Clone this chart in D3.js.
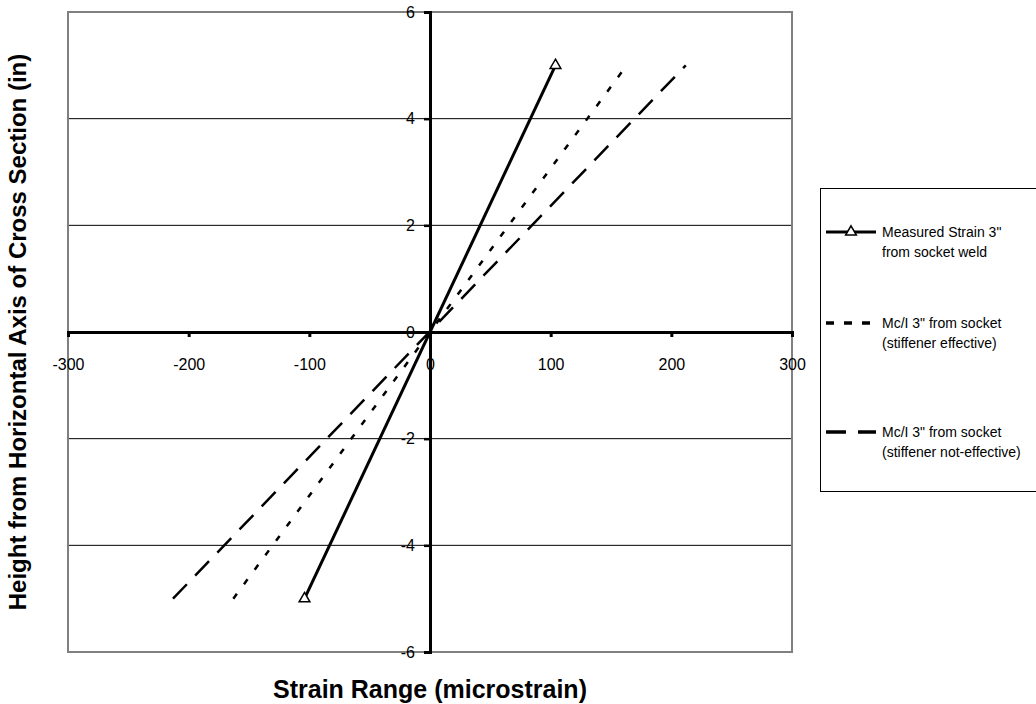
<!DOCTYPE html>
<html><head><meta charset="utf-8">
<script src="https://cdn.jsdelivr.net/npm/d3@7"></script>
<style>body{margin:0;background:#fff}svg{display:block}text{font-family:Arial,"Liberation Sans",sans-serif}</style>
</head><body><svg id="c" width="1036" height="704"></svg>
<script>
const xTicks = [-300,-200,-100,0,100,200,300];
const yTicks = [-6,-4,-2,0,2,4,6];
const measuredX = [-104, 104];
const measuredY = [-5, 5];
const effX = [-163, 163];
const effY = [-5, 5];
const notEffX = [-213, 212];
const notEffY = [-5, 5];
const seriesNames = [["Measured Strain 3\"","from socket weld"],["Mc/I 3\" from socket","(stiffener effective)"],["Mc/I 3\" from socket","(stiffener not-effective)"]];

const svg = d3.select("#c");
const x = d3.scaleLinear().domain([-300,300]).range([68,792]);
const y = d3.scaleLinear().domain([-6,6]).range([652,12]);
const fmt = d => String(d);

// gridlines
svg.append("g").selectAll("line").data(yTicks.filter(d=>d!==0&&Math.abs(d)!==6)).join("line")
  .attr("x1",x(-300)).attr("x2",x(300)).attr("y1",d=>y(d)).attr("y2",d=>y(d))
  .attr("stroke","#000").attr("stroke-width",1);
// frame
svg.append("rect").attr("x",x(-300)).attr("y",y(6)).attr("width",x(300)-x(-300)).attr("height",y(-6)-y(6))
  .attr("fill","none").attr("stroke","#808080").attr("stroke-width",2);

// x axis
const xa = svg.append("g").attr("transform",`translate(0,${y(0)})`)
  .call(d3.axisBottom(x).tickValues(xTicks).tickSize(5).tickPadding(22).tickFormat(fmt));
xa.select(".domain").attr("stroke-width",3).attr("stroke","#000");
xa.selectAll(".tick line").attr("stroke-width",3);
xa.selectAll("text").attr("font-size",16).attr("font-family","Arial, 'Liberation Sans', sans-serif").attr("fill","#000");

// y axis
const ya = svg.append("g").attr("transform",`translate(${x(0)},0)`)
  .call(d3.axisLeft(y).tickValues(yTicks).tickSize(6).tickPadding(9).tickFormat(fmt));
ya.select(".domain").attr("stroke-width",3).attr("stroke","#000");
ya.selectAll(".tick line").attr("stroke-width",2.5);
ya.selectAll("text").attr("font-size",16).attr("font-family","Arial, 'Liberation Sans', sans-serif").attr("fill","#000");

const line = d3.line().x(d=>x(d[0])).y(d=>y(d[1]));
const series = [
  {xs:notEffX, ys:notEffY, dash:"20 12", w:2.5, marker:false},
  {xs:effX, ys:effY, dash:"6 12", w:2.5, marker:false},
  {xs:measuredX, ys:measuredY, dash:null, w:3, marker:true}
];
const tri = d3.symbol().type(d3.symbolTriangle).size(50);
series.forEach(s=>{
  const pts = s.xs.map((v,i)=>[v,s.ys[i]]);
  svg.append("path").datum(pts).attr("d",line).attr("fill","none").attr("stroke","#000")
    .attr("stroke-width",s.w).attr("stroke-dasharray",s.dash);
  if(s.marker){
    svg.append("g").selectAll("path").data(pts).join("path")
      .attr("d",tri).attr("transform",d=>`translate(${x(d[0])},${y(d[1])})`)
      .attr("fill","#fff").attr("stroke","#000").attr("stroke-width",1.5);
  }
});

// axis titles
svg.append("text").attr("x",x(0)).attr("y",698).attr("text-anchor","middle")
  .attr("font-size",25).attr("font-weight","bold").text("Strain Range (microstrain)");
svg.append("text").attr("transform",`translate(26,${y(0)}) rotate(-90)`).attr("text-anchor","middle")
  .attr("font-size",24).attr("font-weight","bold").text("Height from Horizontal Axis of Cross Section (in)");

// legend
const lg = svg.append("g");
lg.append("rect").attr("x",820.5).attr("y",188.5).attr("width",230).attr("height",303)
  .attr("fill","#fff").attr("stroke","#000").attr("stroke-width",1);
const legY = [232, 323, 432];
const legStyles = [{dash:null,w:3,marker:true},{dash:"8 10",w:3.5,marker:false},{dash:"20 12",w:3.5,marker:false}];
seriesNames.forEach((nm,i)=>{
  const st = legStyles[i];
  lg.append("line").attr("x1",826).attr("x2",876).attr("y1",legY[i]).attr("y2",legY[i])
    .attr("stroke","#000").attr("stroke-width",st.w).attr("stroke-dasharray",st.dash);
  if(st.marker) lg.append("path").attr("d",tri).attr("transform",`translate(851,${legY[i]})`)
    .attr("fill","#fff").attr("stroke","#000").attr("stroke-width",1.5);
  const t = lg.append("text").attr("x",882).attr("y",legY[i]+5).attr("font-size",14);
  t.append("tspan").attr("x",882).text(nm[0]);
  t.append("tspan").attr("x",882).attr("dy",20).text(nm[1]);
});
</script></body></html>
